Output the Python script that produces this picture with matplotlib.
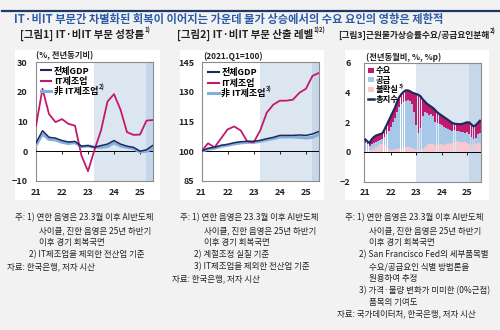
import matplotlib
matplotlib.use('Agg')
import matplotlib.pyplot as plt
from matplotlib.patches import Rectangle, Patch
from matplotlib.lines import Line2D
import numpy as np

plt.rcParams['font.family'] = ['Noto Sans CJK KR', 'DejaVu Sans']

# ---------------- data ----------------
year_labels = ['21', '22', '23', '24', '25']
# quarterly, 2021Q1 .. 2025Q3
gdp_growth = [2.8, 6.9, 4.7, 4.4, 3.6, 3.1, 3.3, 1.7, 1.9, 1.3, 1.9, 2.4, 3.6, 2.4, 1.7, 1.3, 0.0, 0.5, 2.0]
it_growth = [8.5, 21.0, 12.5, 9.8, 10.8, 9.2, 8.6, -1.5, -6.7, 0.5, 7.0, 16.7, 19.2, 14.0, 6.4, 5.5, 5.6, 10.3, 10.5]
nonit_growth = [2.0, 5.8, 4.0, 3.8, 3.0, 2.6, 2.9, 1.5, 1.8, 1.4, 1.3, 1.6, 2.8, 1.8, 1.3, 0.9, -0.2, 0.0, 1.0]

gdp_level = [100, 101.5, 102, 103, 103.5, 104.3, 104.8, 105, 105, 105.5, 106.3, 107, 108, 108, 108, 108.2, 108, 108.7, 110]
it_level = [100, 104, 102, 106.5, 111, 112.5, 110.5, 105, 104.5, 110.5, 119.5, 123.5, 125.5, 125.5, 126, 129.5, 131.5, 138, 139.5]
nonit_level = [100, 101, 101.5, 102.5, 103, 103.7, 104.2, 104.5, 104.5, 105, 105.8, 106.3, 107.2, 107.2, 107.2, 107, 106.7, 107, 108.5]

# monthly, 2021.01 .. 2025.07
cpi_ambig = [0.15, 0.10, 0.10, 0.15, 0.20, 0.30, 0.40, 0.50, 0.55, 0.45,
             0.30, 0.20, 0.15, 0.15, 0.20, 0.20, 0.25, 0.20, 0.25, 0.30,
             0.30, 0.30, 0.25, 0.20, 0.15, 0.10, 0.15, 0.20, 0.30, 0.45,
             0.50, 0.55, 0.50, 0.45, 0.50, 0.55, 0.50, 0.45, 0.55, 0.60,
             0.55, 0.60, 0.70, 0.75, 0.70, 0.65, 0.70, 0.65, 0.60, 0.55,
             0.45, 0.50, 0.55, 0.60, 0.60]
cpi_supply = [0.45, 0.40, 0.30, 0.40, 0.40, 0.40, 0.35, 0.30, 0.30, 0.55,
              0.90, 1.20, 1.55, 1.85, 2.10, 2.50, 2.75, 3.00, 3.10, 3.15,
              3.20, 3.15, 2.95, 2.50, 1.65, 1.20, 1.45, 2.20, 2.40, 2.15,
              2.00, 2.00, 1.95, 1.60, 1.45, 1.30, 1.30, 1.25, 1.05, 0.95,
              0.95, 0.80, 0.75, 0.65, 0.70, 0.70, 0.65, 0.65, 0.75, 0.65,
              0.55, 0.40, 0.40, 0.60, 0.70]
cpi_demand = [0.23, 0.20, 0.20, 0.30, 0.40, 0.40, 0.40, 0.40, 0.40, 0.50,
              0.60, 0.70, 0.70, 0.70, 0.70, 0.70, 0.70, 0.70, 0.70, 0.70,
              0.65, 0.65, 0.80, 1.25, 2.10, 2.55, 2.15, 1.15, 0.70, 0.65,
              0.65, 0.50, 0.50, 0.75, 0.70, 0.70, 0.65, 0.65, 0.65, 0.60,
              0.55, 0.55, 0.45, 0.48, 0.47, 0.52, 0.55, 0.65, 0.65, 0.78,
              0.85, 0.82, 0.85, 0.75, 0.80]
cpi_total = [0.83, 0.70, 0.60, 0.85, 1.00, 1.10, 1.15, 1.20, 1.25, 1.50,
             1.80, 2.10, 2.40, 2.70, 3.00, 3.40, 3.70, 3.90, 4.05, 4.15,
             4.15, 4.10, 4.00, 3.95, 3.90, 3.85, 3.75, 3.55, 3.40, 3.25,
             3.15, 3.05, 2.95, 2.80, 2.65, 2.55, 2.45, 2.35, 2.25, 2.15,
             2.05, 1.95, 1.90, 1.88, 1.87, 1.87, 1.90, 1.95, 2.00, 1.98,
             1.85, 1.72, 1.80, 1.95, 2.10]

# ---------------- style ----------------
NAVY = '#1C2A5C'
MAG = '#C2196E'
LBLUE = '#86AEDD'
SUP = '#A8C8E9'
PINK = '#F5C9D1'
SH1 = '#DCE6F1'
SH2 = '#C6D7EA'
BG = '#F2F2F2'
TXT = '#222222'

W, H = 500, 330
fig = plt.figure(figsize=(W / 100, H / 100), dpi=100, facecolor=BG)


def box(l, t, r, b):
    return [l / W, 1 - b / H, (r - l) / W, (b - t) / H]


def ftext(x, y, s, **kw):
    kw.setdefault('va', 'center')
    return fig.text(x / W, 1 - y / H, s, **kw)


def sup(txt_artist, s, size=4.3):
    fig.add_artist(plt.Annotation(s, xy=(1.0, 0.55), xycoords=txt_artist,
                                  fontsize=size, fontweight='bold', va='bottom', ha='left', color=TXT,
                                  zorder=10))


# white panel backgrounds
for l, r in [(15, 160), (180, 324), (345, 489)]:
    fig.patches.append(Rectangle((l / W, 1 - 200 / H), (r - l) / W, 150 / H,
                                 transform=fig.transFigure, facecolor='white', edgecolor='none', zorder=-10))

# top rule & title
fig.add_artist(Line2D([0.004, 1.0], [1 - 10.5 / H] * 2, color='#1F3864', lw=1.6))
ftext(14, 19, 'IT·비IT 부문간 차별화된 회복이 이어지는 가운데 물가 상승에서의 수요 요인의 영향은 제한적',
      color='#2A5BA8', fontweight='bold', fontsize=8.1)

t1 = ftext(20, 35, '[그림1] IT·비IT 부문 성장률', fontweight='bold', fontsize=7.5, color=TXT)
sup(t1, '1)')
t2 = ftext(177, 35, '[그림2] IT·비IT 부문 산출 레벨', fontweight='bold', fontsize=7.5, color=TXT)
sup(t2, '1)2)')
t3 = ftext(338, 35, '[그림3]근원물가상승률수요/공급요인분해', fontweight='bold', fontsize=6.3, color=TXT)
sup(t3, '2)')

ftext(36, 56, '(%, 전년동기비)', fontweight='bold', fontsize=6, color=TXT)
ftext(203, 56, '(2021.Q1=100)', fontweight='bold', fontsize=6, color=TXT)
ftext(366, 57, '(전년동월비, %, %p)', fontweight='bold', fontsize=6, color=TXT)


def style_axes(ax, yticks, ypad, baseline, xticks, xlim):
    ax.set_xlim(*xlim)
    ax.set_ylim(yticks[0], yticks[-1])
    ax.set_yticks(yticks)
    ax.set_xticks(xticks)
    ax.set_xticklabels(year_labels)
    ax.tick_params(axis='y', length=0, pad=ypad, labelsize=6.5, labelcolor=TXT)
    ax.tick_params(axis='x', length=0, pad=5, labelsize=6.5, labelcolor=TXT)
    for lab in ax.get_xticklabels() + ax.get_yticklabels():
        lab.set_fontweight('bold')
    for s in ax.spines.values():
        s.set_color('#8C8C8C')
        s.set_linewidth(0.8)
    ax.axhline(baseline, color='black', lw=0.7, zorder=3)
    frac = (baseline - yticks[0]) / (yticks[-1] - yticks[0])
    sec = ax.secondary_xaxis(frac)
    sec.set_alignment('bottom')
    sec.set_xticks(xticks[1:])
    sec.tick_params(axis='x', length=2, width=0.6, color='black', labelbottom=False, labeltop=False)
    for s in sec.spines.values():
        s.set_visible(False)


# ---------- panel 1 ----------
xq = np.arange(len(gdp_growth))
ax1 = fig.add_axes(box(36, 62, 153, 181))
ax1.axvspan(8.9, 18, color=SH1, lw=0, zorder=0)
ax1.axvspan(16.9, 18, color=SH2, lw=0, zorder=0)
ax1.plot(xq, nonit_growth, color=LBLUE, lw=2.2, zorder=4)
ax1.plot(xq, it_growth, color=MAG, lw=1.3, zorder=4)
ax1.plot(xq, gdp_growth, color=NAVY, lw=1.1, zorder=5)
style_axes(ax1, [-10, 0, 10, 20, 30], 6, 0, [0, 4, 8, 12, 16], (0, 18))
h1 = [Line2D([], [], color=NAVY, lw=1.5), Line2D([], [], color=MAG, lw=1.5), Line2D([], [], color=LBLUE, lw=2.2)]
leg1 = ax1.legend(h1, ['전체GDP', 'IT제조업', '非 IT제조업'], loc='upper left', frameon=False,
                  handlelength=1.2, handletextpad=0.3, labelspacing=0.15, borderaxespad=0.2,
                  borderpad=0.3, prop={'weight': 'bold', 'size': 6.5})
leg1.set_zorder(10)
sup(leg1.get_texts()[2], '2)')

# ---------- panel 2 ----------
ax2 = fig.add_axes(box(201.5, 62, 319, 181))
ax2.axvspan(8.9, 18, color=SH1, lw=0, zorder=0)
ax2.axvspan(16.9, 18, color=SH2, lw=0, zorder=0)
ax2.plot(xq, nonit_level, color=LBLUE, lw=2.2, zorder=4)
ax2.plot(xq, it_level, color=MAG, lw=1.3, zorder=4)
ax2.plot(xq, gdp_level, color=NAVY, lw=1.1, zorder=5)
style_axes(ax2, [85, 100, 115, 130, 145], 5, 100, [0, 4, 8, 12, 16], (0, 18))
leg2 = ax2.legend(h1, ['전체GDP', 'IT제조업', '非 IT제조업'], loc='upper left', frameon=False,
                  handlelength=1.2, handletextpad=0.3, labelspacing=0.15, borderaxespad=0.2,
                  borderpad=0.5, prop={'weight': 'bold', 'size': 6.5})
leg2.set_zorder(10)
sup(leg2.get_texts()[2], '3)')

# ---------- panel 3 ----------
xm = np.arange(len(cpi_total))
amb = np.array(cpi_ambig)
sp = np.array(cpi_supply)
dm = np.array(cpi_demand)
ax3 = fig.add_axes(box(364.3, 63, 481, 181.5))
ax3.axvspan(23.9, 54.5, color=SH1, lw=0, zorder=0)
ax3.axvspan(48.8, 54.5, color=SH2, lw=0, zorder=0)
ax3.bar(xm, amb, width=0.85, color=PINK, lw=0, zorder=2)
ax3.bar(xm, sp, width=0.85, bottom=amb, color=SUP, lw=0, zorder=2)
ax3.bar(xm, dm, width=0.85, bottom=amb + sp, color=MAG, lw=0, zorder=2)
ax3.plot(xm, cpi_total, color=NAVY, lw=1.6, zorder=5)
style_axes(ax3, [-2, 0, 2, 4, 6], 10, 0, [0, 12, 24, 36, 48], (-0.5, 54.5))
h3 = [Patch(facecolor=MAG, lw=0), Patch(facecolor=SUP, lw=0), Patch(facecolor=PINK, lw=0),
      Line2D([], [], color=NAVY, lw=1.8)]
leg3 = ax3.legend(h3, ['수요', '공급', '불확실', '총지수'], loc='upper left', frameon=False,
                  handlelength=0.75, handleheight=0.55, handletextpad=0.2, labelspacing=0.05,
                  borderaxespad=0.2, borderpad=0.2, prop={'weight': 'bold', 'size': 6.0})
leg3.set_zorder(10)
sup(leg3.get_texts()[2], '3)', size=3.8)

# ---------- notes ----------
NF = 6.1
common = ['주: 1) 연한 음영은 23.3월 이후 AI반도체', '사이클, 진한 음영은 25년 하반기', '이후 경기 회복국면']


def notes(ox, extra, source):
    ftext(ox + 15, 218, common[0], fontsize=NF, color=TXT)
    ftext(ox + 39, 231, common[1], fontsize=NF, color=TXT)
    ftext(ox + 39, 243, common[2], fontsize=NF, color=TXT)
    y = 255
    for indent, s in extra:
        ftext(ox + indent, y, s, fontsize=NF, color=TXT)
        y += 11.8
    ftext(ox + 7, y, source, fontsize=NF, color=TXT)


notes(0, [(29, '2) IT제조업을 제외한 전산업 기준')], '자료: 한국은행, 저자 시산')
notes(165, [(29, '2) 계절조정 실질 기준'), (29, '3) IT제조업을 제외한 전산업 기준')], '자료: 한국은행, 저자 시산')
notes(330, [(29, '2) San Francisco Fed의 세부품목별'), (39, '수요/공급요인 식별 방법론을'),
            (39, '원용하여 추정'), (29, '3) 가격·물량 변화가 미미한 (0%근접)'), (39, '품목의 기여도')],
      '자료: 국가데이터처, 한국은행, 저자 시산')

fig.savefig('out.png', dpi=100, facecolor=BG)
